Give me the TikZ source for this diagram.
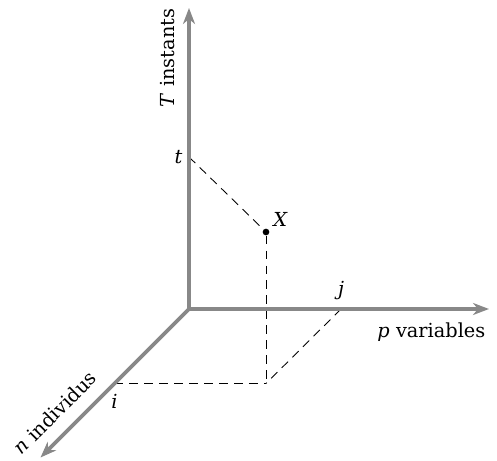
\documentclass[tikz,border=0pt]{standalone}
\usepackage{fontspec}
\setmainfont{DejaVu Serif}
\usepackage{tikz}
\usetikzlibrary{arrows.meta, positioning}
\definecolor{cAxis}{RGB}{136,136,136}
\tikzset{
	axis/.style ={draw=cAxis, line width=2.2pt, -{Stealth[length=3.2mm, width=2.4mm, inset=1mm]}},
	proj/.style ={draw=black, line width=0.5pt, dash pattern=on 5pt off 3.5pt},
	pt/.style   ={circle, fill=black, inner sep=0pt, minimum size=3.8pt},
	lbl/.style  ={inner sep=1pt},
}

\begin{document}
\begin{tikzpicture}[font=\fontsize{11}{13}\selectfont]
	\useasboundingbox (-3.78,-3.04) rectangle (6.16,6.18);
	\coordinate (O) at (0,0);
	\coordinate (Tend) at (0,6.02);
	\coordinate (Pend) at (6.0,0);
	\coordinate (Nend) at (-2.97,-2.97);
	\coordinate (tpt) at (0,3.04);
	\coordinate (jpt) at (3.04,0);
	\coordinate (ipt) at (-1.49,-1.49);
	\coordinate (ijpt) at (1.54,-1.49);
	\node[pt] (X) at (1.54,1.54) {};
	% projections
	\draw[proj] (tpt) -- (X); \draw[proj] (X) -- (ijpt);
	\draw[proj] (ipt) -- (ijpt); \draw[proj] (jpt) -- (ijpt);
	% axes
	\draw[axis] (O) -- (Tend) node[lbl, pos=0.834, sloped, above=5.8pt] (Tlab) {\textit{T} instants};
	\draw[axis] (O) -- (Pend) node[lbl, anchor=north east, yshift=-6pt] (Plab) {\textit{p} variables};
	\draw[axis] (O) -- (Nend) node[lbl, pos=0.8, sloped, above=6pt] (Nlab) {\textit{n} individus};
	\node[lbl, left=2.5pt of tpt] (tlab) {\textit{t}};
	\node[lbl, above right=2pt and 3pt of X.center] (Xlab) {\textit{X}};
	\node[lbl, above=4pt of jpt] (jlab) {\textit{j}};
	\node[lbl, below=5pt of ipt] (ilab) {\textit{i}};
\end{tikzpicture}
\end{document}
